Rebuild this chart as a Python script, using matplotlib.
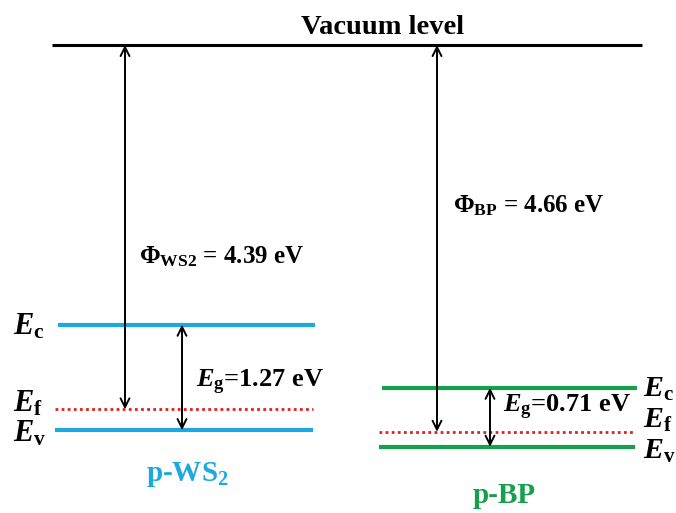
import matplotlib
matplotlib.use("Agg")
import matplotlib.pyplot as plt

# Energías en eV respecto al nivel de vacío (0 eV)
vacuum = 0.0
materials = ["p-WS$_\\mathbf{2}$", "p-BP"]
work_function = [4.39, 4.66]      # Φ
band_gap = [1.27, 0.71]           # Eg
conduction_band = [-3.37, -4.13]  # Ec
phi_subscripts = ["WS2", "BP"]

blue = "#1BA9DF"
green = "#15A04E"
red = "#E0201E"
band_colors = [blue, green]

plt.rcParams["font.family"] = ["Liberation Serif", "DejaVu Serif"]
plt.rcParams["font.weight"] = "bold"
plt.rcParams["mathtext.fontset"] = "custom"
plt.rcParams["mathtext.rm"] = "Liberation Serif:bold"
plt.rcParams["mathtext.it"] = "Liberation Serif:bold:italic"
plt.rcParams["mathtext.bf"] = "Liberation Serif:bold"

fig = plt.figure(figsize=(6.76, 5.13), dpi=100)
ax = fig.add_axes([0, 0, 1, 1])
# eje x en píxeles, eje y en eV (83 px por eV, vacío en y=45 px)
ax.set_xlim(0, 676)
ax.set_ylim(-(513 - 45) / 83.0, 45 / 83.0)
ax.axis("off")

# nivel de vacío
ax.plot([52, 642], [vacuum, vacuum], color="black", lw=2.2, solid_capstyle="butt")
ax.text(383, vacuum + 0.135, "Vacuum level", ha="center", va="baseline", fontsize=20.5)

# geometría de cada bloque (x en píxeles)
band_x = [(58, 315), (382, 637)]
phi_x = [125, 437]
gap_x = [182, 490]
phi_label_xy = [(139, -2.63), (453, -2.02)]
gap_label_xy = [(196, -4.12), (503, -4.43)]
name_xy = [(187, -5.17), (504, -5.43)]
# etiquetas Ec, Ef, Ev: (x, línea base de cada una)
level_label_x = [13, 643]
level_label_y = [(-3.49, -4.42, -4.78), (-4.24, -4.61, -4.98)]

for i in range(2):
    ec = conduction_band[i]
    ev = ec - band_gap[i]
    ef = vacuum - work_function[i]
    x0, x1 = band_x[i]
    c = band_colors[i]

    ax.plot([x0, x1], [ec, ec], color=c, lw=3, solid_capstyle="butt")
    ax.plot([x0 - 3, x1 - 2], [ev, ev], color=c, lw=3, solid_capstyle="butt")
    ax.plot([x0 - 3, x1 - 2], [ef, ef], color=red, lw=2, ls=(0, (1, 1.2)))

    # flecha de la función de trabajo
    ax.annotate("", xy=(phi_x[i], ef), xytext=(phi_x[i], vacuum),
                arrowprops=dict(arrowstyle="<->", color="black", lw=1.4,
                                mutation_scale=16, shrinkA=0, shrinkB=0))
    # flecha del gap
    ax.annotate("", xy=(gap_x[i], ev), xytext=(gap_x[i], ec),
                arrowprops=dict(arrowstyle="<->", color="black", lw=1.4,
                                mutation_scale=16, shrinkA=0, shrinkB=0))

    px, py = phi_label_xy[i]
    ax.text(px, py, "$\\Phi_{\\mathrm{%s}}$ = %.2f eV" % (phi_subscripts[i], work_function[i]),
            ha="left", va="baseline", fontsize=18)
    gx, gy = gap_label_xy[i]
    ax.text(gx, gy, "$E_\\mathrm{g}$=%.2f eV" % band_gap[i],
            ha="left", va="baseline", fontsize=19)

    nx, ny = name_xy[i]
    ax.text(nx, ny, materials[i], ha="center", va="center", fontsize=21, color=c)

    for lab, yy in zip("cfv", level_label_y[i]):
        ax.text(level_label_x[i], yy, "$E_\\mathrm{%s}$" % lab,
                ha="left", va="baseline", fontsize=21.5 if i == 1 else 22)

fig.savefig("out.png", dpi=100)
